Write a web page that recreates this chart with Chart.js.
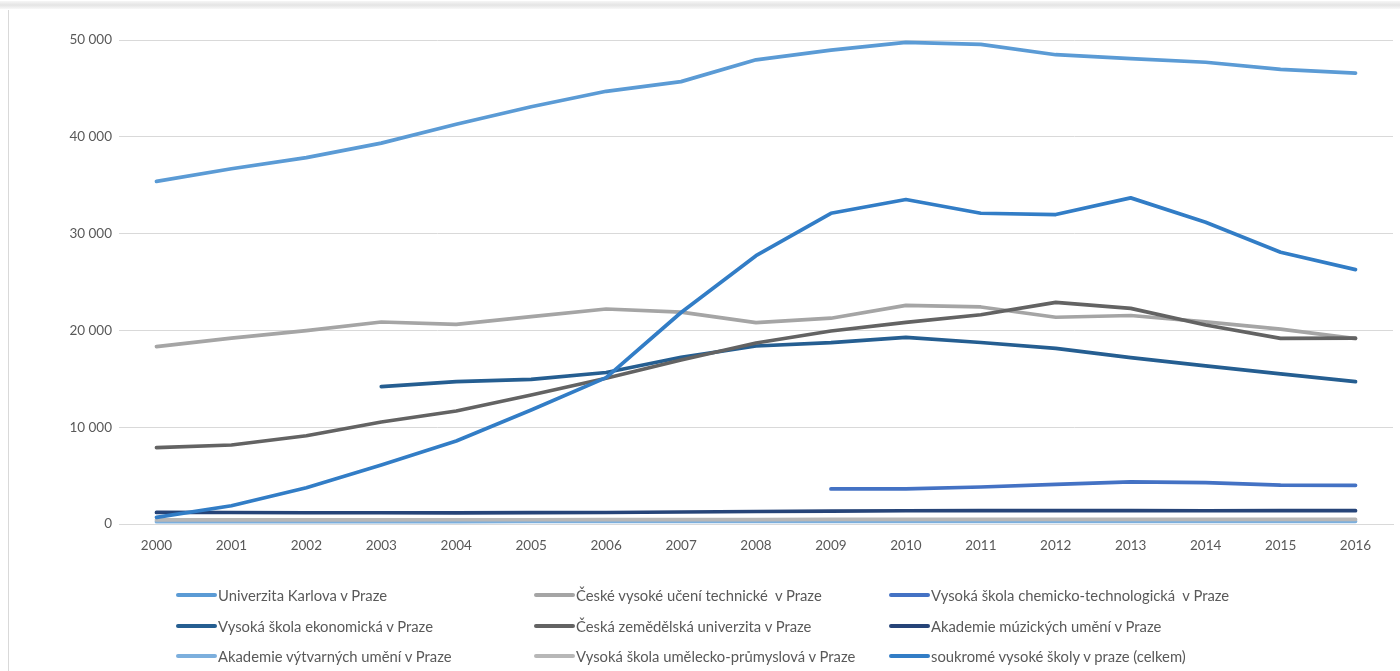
<!DOCTYPE html>
<html>
<head>
<meta charset="utf-8">
<script src="https://cdn.jsdelivr.net/npm/chart.js@4/dist/chart.umd.min.js"></script>
<style>
  html, body { margin: 0; padding: 0; background: #ffffff; }
  #wrap { position: relative; width: 1400px; height: 671px; overflow: hidden; background: #fff; }
  #c { position: absolute; left: 0; top: 0; }
  #frameLeft { position: absolute; left: 8px; top: 10px; width: 1px; height: 661px; background: #d9d9d9; }
  #frameTop { position: absolute; left: 0; top: 1px; width: 1400px; height: 8px; background: linear-gradient(#f6f6f6, #e4e4e4, #f8f8f8); }
  #legend { position: absolute; left: 0; top: 0; width: 1400px; height: 671px; pointer-events: none;
            font-family: Lato, "Open Sans", sans-serif; font-size: 14.8px; color: #595959; }
  .item { position: absolute; display: flex; align-items: center; white-space: pre; }
  .swatch { width: 41px; height: 4px; margin-right: 1px; border-radius: 2px; }
</style>
</head>
<body>
<div id="wrap">
  <div id="frameTop"></div>
  <div id="frameLeft"></div>
  <canvas id="c" width="1400" height="671"></canvas>
  <div id="legend"></div>
</div>
<script>
const years = ['2000','2001','2002','2003','2004','2005','2006','2007','2008','2009','2010','2011','2012','2013','2014','2015','2016'];

const seriesNames = [
  'Univerzita Karlova v Praze',
  'České vysoké učení technické  v Praze',
  'Vysoká škola chemicko-technologická  v Praze',
  'Vysoká škola ekonomická v Praze',
  'Česká zemědělská univerzita v Praze',
  'Akademie múzických umění v Praze',
  'Akademie výtvarných umění v Praze',
  'Vysoká škola umělecko-průmyslová v Praze',
  'soukromé vysoké školy v praze (celkem)'
];

const univerzitaKarlova = [35400, 36700, 37850, 39350, 41300, 43100, 44700, 45700, 47950, 48950, 49750, 49550, 48480, 48080, 47700, 46970, 46580];
const cvut = [18320, 19200, 19970, 20870, 20630, 21430, 22210, 21880, 20800, 21260, 22580, 22420, 21360, 21540, 20890, 20140, 19150];
const vscht = [null, null, null, null, null, null, null, null, null, 3620, 3620, 3820, 4100, 4360, 4270, 4010, 4000];
const vse = [null, null, null, 14190, 14700, 14950, 15650, 17220, 18390, 18740, 19280, 18750, 18150, 17180, 16330, 15500, 14700];
const czu = [7890, 8160, 9120, 10540, 11670, 13330, 15050, 16950, 18700, 19940, 20820, 21620, 22900, 22280, 20560, 19180, 19200];
const amu = [1200, 1190, 1160, 1160, 1140, 1170, 1190, 1240, 1290, 1340, 1370, 1380, 1380, 1380, 1370, 1380, 1380];
const avu = [240, 240, 250, 250, 250, 260, 260, 270, 270, 270, 280, 280, 280, 280, 280, 280, 280];
const vsup = [420, 420, 430, 430, 440, 440, 450, 450, 460, 470, 470, 480, 480, 480, 480, 470, 470];
const soukrome = [690, 1890, 3750, 6100, 8570, 11780, 15120, 21850, 27720, 32100, 33520, 32100, 31970, 33690, 31170, 28070, 26280];

const yTicks = [0, 10000, 20000, 30000, 40000, 50000];

const seriesValues = [univerzitaKarlova, cvut, vscht, vse, czu, amu, avu, vsup, soukrome];
const seriesColors = ['#5B9BD5', '#A5A5A5', '#4472C4', '#255E91', '#636363', '#264478', '#7CAFDD', '#B7B7B7', '#327DC6'];

const n = seriesValues.length;
const datasets = seriesValues.map((vals, i) => ({
  label: seriesNames[i],
  data: vals,
  borderColor: seriesColors[i],
  backgroundColor: seriesColors[i],
  borderWidth: 3.7,
  pointRadius: 0,
  pointHoverRadius: 0,
  tension: 0,
  fill: false,
  spanGaps: false,
  borderCapStyle: 'round',
  borderJoinStyle: 'round',
  order: n - i
}));

function fmt(v) { return String(v).replace(/\B(?=(\d{3})+(?!\d))/g, ' '); }

new Chart(document.getElementById('c'), {
  type: 'line',
  data: { labels: years, datasets: datasets },
  options: {
    responsive: false,
    animation: false,
    events: [],
    layout: { padding: { left: 0, right: 7, top: 40, bottom: 107 } },
    plugins: { legend: { display: false }, tooltip: { enabled: false }, title: { display: false } },
    scales: {
      x: {
        offset: true,
        grid: { display: false, drawTicks: false },
        border: { display: true, color: '#d9d9d9', width: 1 },
        ticks: { color: '#595959', font: { family: 'Lato, "Open Sans", sans-serif', size: 13.5 }, padding: 14, maxRotation: 0, autoSkip: false },
        afterFit: s => { s.height = 40; }
      },
      y: {
        min: 0, max: 50000,
        afterBuildTicks: s => { s.ticks = yTicks.map(v => ({ value: v })); },
        grid: { color: '#d9d9d9', lineWidth: 1, drawTicks: false },
        border: { display: false },
        ticks: { color: '#595959', font: { family: 'Lato, "Open Sans", sans-serif', size: 13.5 }, padding: 7, callback: v => fmt(v) },
        afterFit: s => { s.width = 119; }
      }
    }
  }
});

// legend (3 columns x 3 rows, like the reference)
const legend = document.getElementById('legend');
const colX = [176, 534, 889];
const rowY = [595, 626, 656];
seriesNames.forEach((name, i) => {
  const item = document.createElement('div');
  item.className = 'item';
  item.style.left = colX[i % 3] + 'px';
  item.style.top = (rowY[Math.floor(i / 3)] - 9) + 'px';
  item.style.height = '18px';
  const sw = document.createElement('span');
  sw.className = 'swatch';
  sw.style.background = seriesColors[i];
  const tx = document.createElement('span');
  tx.textContent = name;
  item.appendChild(sw);
  item.appendChild(tx);
  legend.appendChild(item);
});
</script>
</body>
</html>
